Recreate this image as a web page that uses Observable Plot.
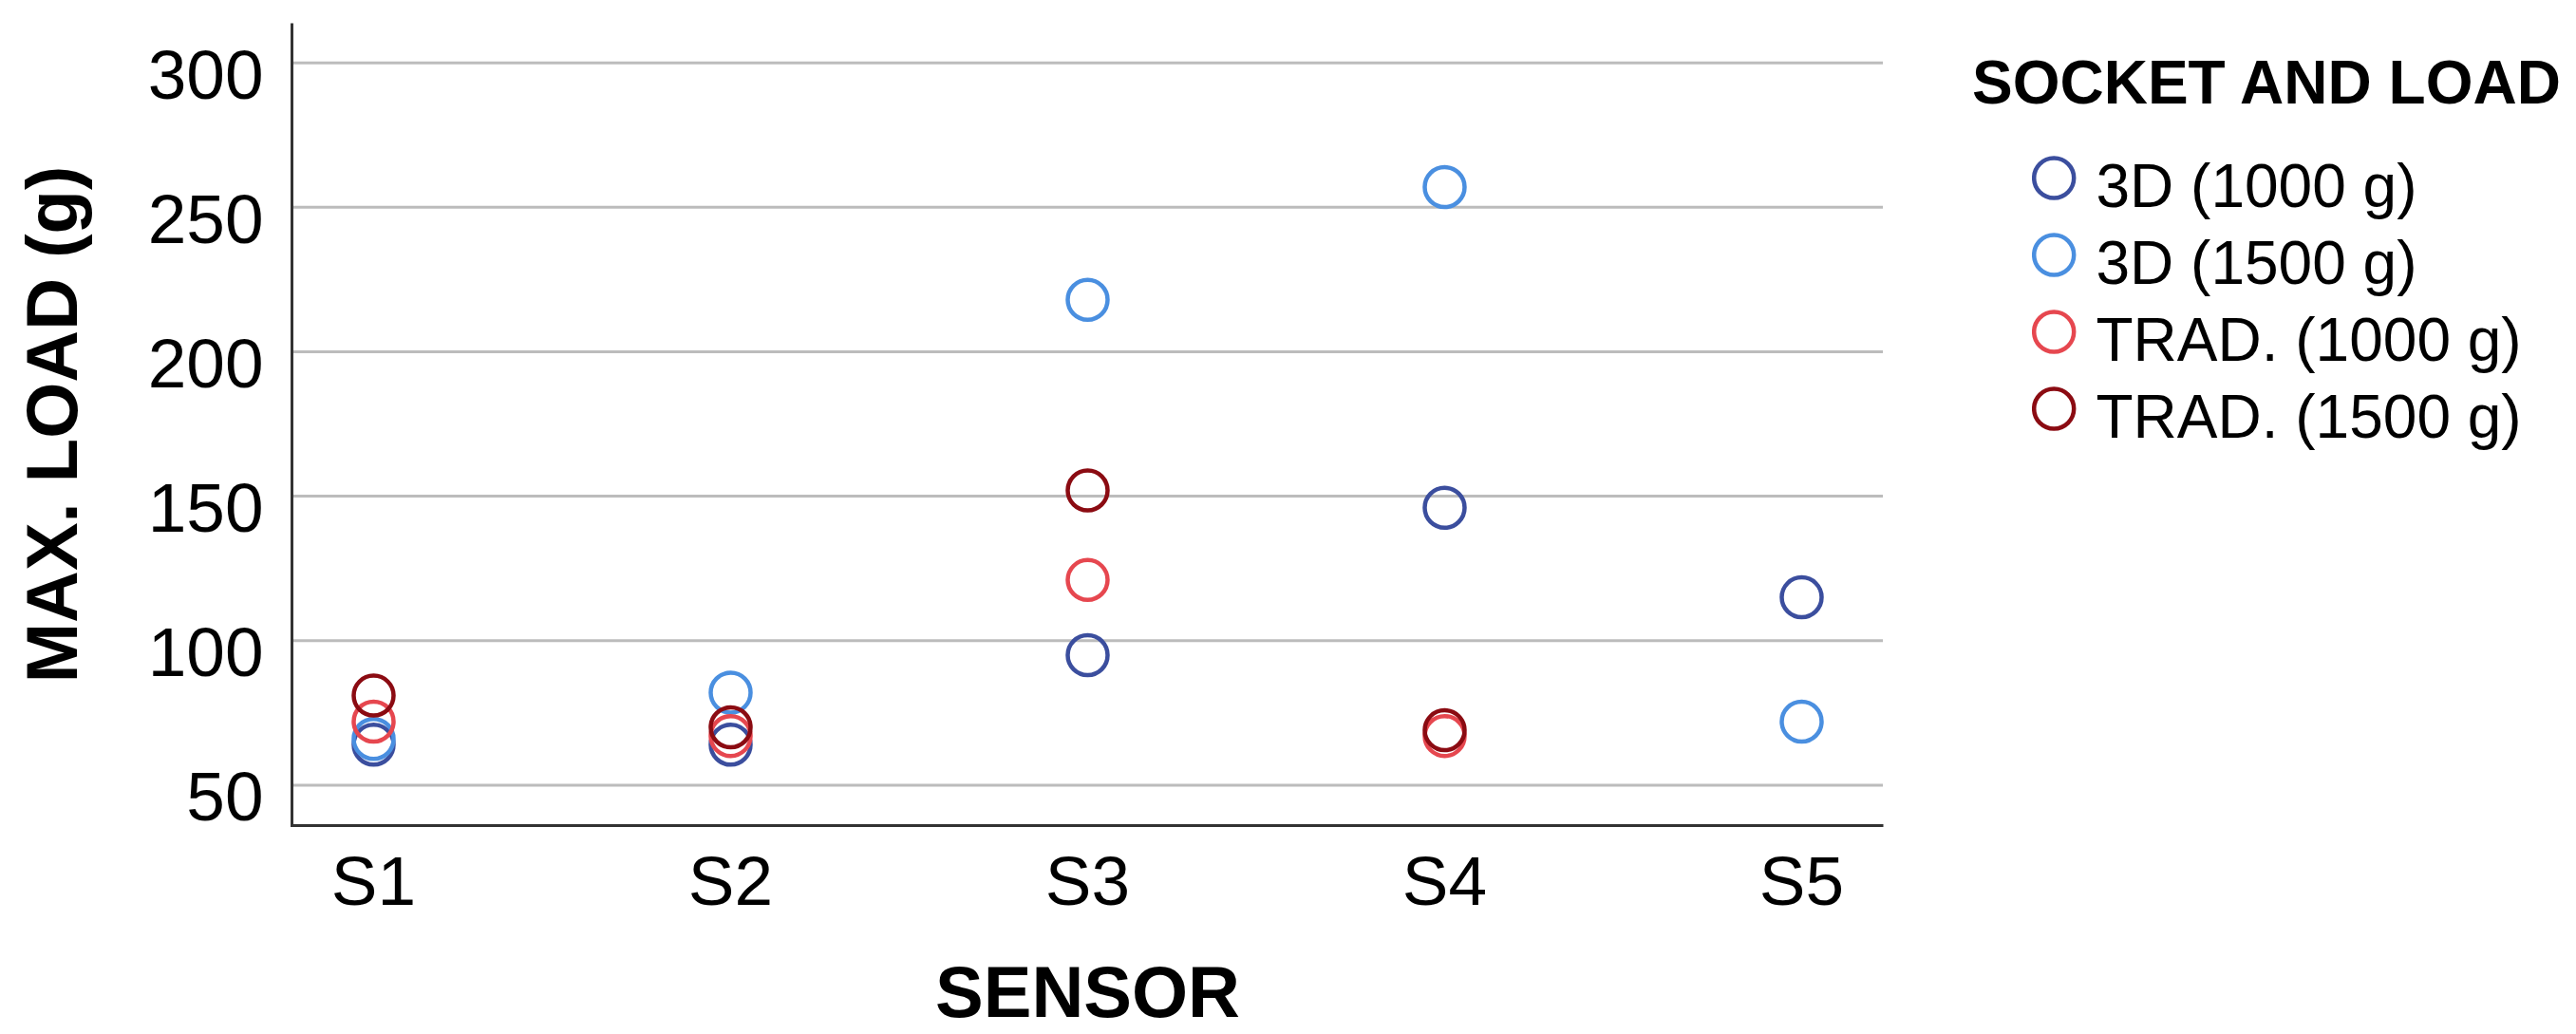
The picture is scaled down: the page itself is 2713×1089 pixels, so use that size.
<!DOCTYPE html>
<html><head><meta charset="utf-8">
<script src="https://cdn.jsdelivr.net/npm/d3@7"></script>
<script src="https://cdn.jsdelivr.net/npm/@observablehq/plot@0.6"></script>
<style>
html,body{margin:0;padding:0;background:#fff;}
#wrap{position:relative;width:2713px;height:1089px;overflow:hidden;font-family:"Liberation Sans",Arial,sans-serif;}
#chart{position:absolute;left:0;top:0;width:2713px;height:1089px;}
#legend{position:absolute;left:2140px;top:0;width:573px;height:480px;}
#legend svg, #chart svg{max-width:none !important;}
#legtitle{position:absolute;left:2077px;top:55px;font-weight:bold;font-size:64px;line-height:64px;white-space:nowrap;color:#000;}
g[aria-label="y-axis label"] text, g[aria-label="x-axis label"] text{font-weight:bold;font-size:76px;}
</style></head>
<body><div id="wrap"><div id="chart"></div><div id="legtitle">SOCKET AND LOAD</div><div id="legend"></div></div>
<script>
const sensors = ["S1", "S2", "S3", "S4", "S5"];
const groups = ["3D (1000 g)", "3D (1500 g)", "TRAD. (1000 g)", "TRAD. (1500 g)"];
const colors = ["#3b4e9e", "#4a8fe0", "#e6474f", "#8b0b12"];
const load3D1000 = [64, 64, 95, 146, 115];
const load3D1500 = [66, 82, 218, 257, 72];
const loadTrad1000 = [72, 67, 121, 67, null];
const loadTrad1500 = [81, 70, 152, 69, null];
const yTicks = [50, 100, 150, 200, 250, 300];

const series = [load3D1000, load3D1500, loadTrad1000, loadTrad1500];
const data = series.flatMap((vals, gi) =>
  sensors.map((s, i) => ({sensor: s, group: groups[gi], value: vals[i]}))
).filter(d => d.value != null);

const W = 2713, H = 1089, mL = 307, mR = 730, mT = 24, mB = 220;
const fw = W - mL - mR, fh = H - mT - mB;

const chart = Plot.plot({
  width: W, height: H,
  marginLeft: mL, marginRight: mR, marginTop: mT, marginBottom: mB,
  style: {fontFamily: "Liberation Sans, Arial, sans-serif", color: "#000", background: "#fff"},
  x: {type: "point", domain: sensors, padding: 0.228},
  y: {domain: [36, 313.7]},
  color: {domain: groups, range: colors},
  marks: [
    Plot.gridY(yTicks, {stroke: "#bcbcbc", strokeOpacity: 1, strokeWidth: 3}),
    Plot.frame({stroke: "#333", strokeWidth: 3, strokeDasharray: `0 ${fw + fh} ${fw + fh}`}),
    Plot.axisY({ticks: yTicks, tickSize: 0, tickPadding: 30, fontSize: 73, dy: 14,
      label: "MAX. LOAD (g)", labelAnchor: "center", labelArrow: "none", labelOffset: 280}),
    Plot.axisX({tickSize: 0, tickPadding: 32, fontSize: 73,
      label: "SENSOR", labelAnchor: "center", labelArrow: "none", labelOffset: 201}),
    Plot.dot(data, {x: "sensor", y: "value", stroke: "group", r: 21, strokeWidth: 4.5, fill: "none"})
  ]
});
document.getElementById("chart").appendChild(chart);

const legend = Plot.plot({
  width: 573, height: 480, margin: 0,
  style: {fontFamily: "Liberation Sans, Arial, sans-serif", color: "#000", background: "transparent"},
  y: {type: "point", domain: groups, range: [186, 430], padding: 0, axis: null},
  color: {domain: groups, range: colors},
  marks: [
    Plot.dot(groups, {y: d => d, frameAnchor: "left", dx: 22.7, r: 21, stroke: d => d, strokeWidth: 4.5, fill: "none"}),
    Plot.text(groups, {y: d => d, frameAnchor: "left", dx: 67, dy: 10, text: d => d, textAnchor: "start", fontSize: 64, fill: "#000"})
  ]
});
document.getElementById("legend").appendChild(legend);
</script></body></html>
